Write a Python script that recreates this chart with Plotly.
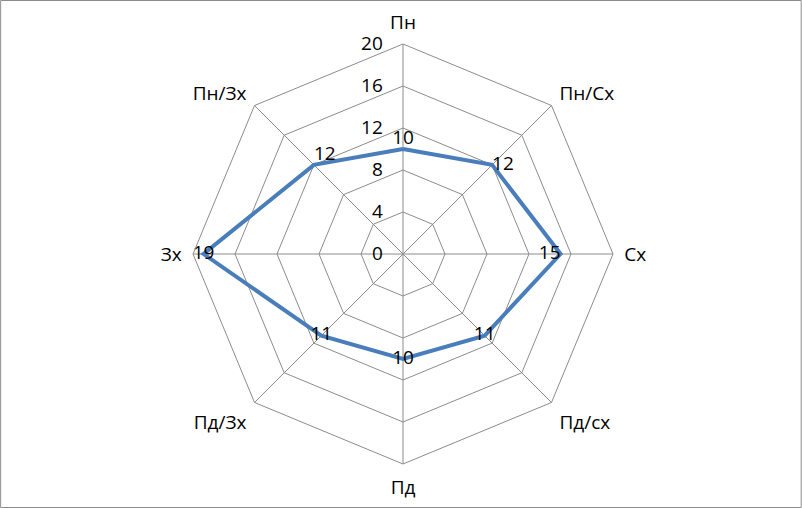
import plotly.graph_objects as go

categories = ["Пн", "Пн/Сх", "Сх", "Пд/сх", "Пд", "Пд/Зх", "Зх", "Пн/Зх"]
values = [10, 12, 15, 11, 10, 11, 19, 12]
radial_ticks = [0, 4, 8, 12, 16, 20]
label_positions = ["top center", "middle right", "middle left", "middle center",
                   "middle center", "middle center", "middle center", "top right"]

W, H = 802, 508
cx, cy, R = 403, 254, 210
FONT = "Open Sans, Liberation Sans, sans-serif"
FS = 19

fig = go.Figure()
fig.add_trace(go.Scatterpolar(
    r=values + values[:1],
    theta=categories + categories[:1],
    mode="lines+text",
    text=[str(v) for v in values] + [""],
    textposition=label_positions + ["top center"],
    textfont=dict(family=FONT, size=FS, color="#000000"),
    line=dict(color="#4A7EBB", width=4),
    cliponaxis=False,
    showlegend=False,
))

fig.update_layout(
    width=W, height=H,
    margin=dict(l=0, r=0, t=0, b=0),
    paper_bgcolor="white",
    plot_bgcolor="white",
    font=dict(family=FONT, size=FS, color="#000000"),
    polar=dict(
        domain=dict(x=[(cx - R) / W, (cx + R) / W], y=[(H - cy - R) / H, (H - cy + R) / H]),
        bgcolor="white",
        gridshape="linear",
        radialaxis=dict(
            range=[0, 20],
            tickvals=radial_ticks,
            ticktext=[str(t) for t in radial_ticks],
            angle=90,
            tickangle=90,
            side="counterclockwise",
            showline=False,
            ticks="outside",
            ticklen=13,
            tickcolor="rgba(0,0,0,0)",
            gridcolor="#8C8C8C",
            gridwidth=1,
            tickfont=dict(size=FS),
        ),
        angularaxis=dict(
            direction="clockwise",
            rotation=90,
            gridcolor="#8C8C8C",
            linecolor="#8C8C8C",
            linewidth=1,
            ticks="outside",
            ticklen=7,
            tickcolor="rgba(0,0,0,0)",
            tickfont=dict(size=FS),
        ),
    ),
    shapes=[dict(type="rect", xref="paper", yref="paper", x0=0.0008, y0=0.001, x1=0.999, y1=0.999,
                 line=dict(color="#8C8C8C", width=1))],
)

fig.write_html("out.html", config={"displayModeBar": False})

with open("out.html", "r", encoding="utf-8") as f:
    html = f.read()
html = html.replace("<head>", "<head><style>html,body{margin:0;padding:0;overflow:hidden;}</style>", 1)
with open("out.html", "w", encoding="utf-8") as f:
    f.write(html)
